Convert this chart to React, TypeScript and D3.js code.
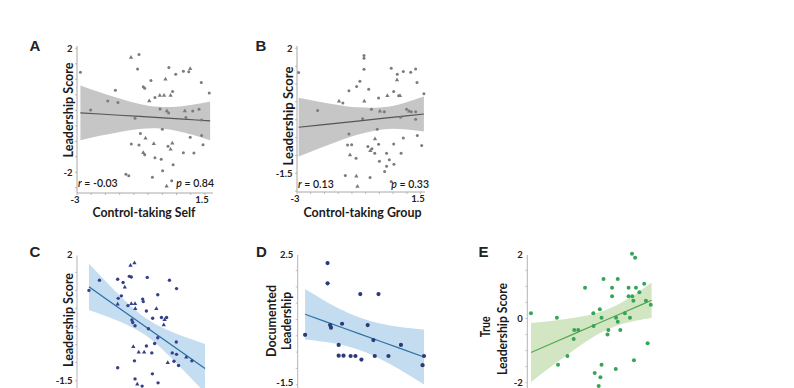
import * as d3 from "d3";

// ---- Panel A : Control-taking Self ----
const aX = [-2.88, -1.1, -0.82, -0.87, 0.23, 0.47, 0.74, 0.93, 0.98, -0.4, 0.11, 1.37, -0.67, -0.62, -1.65, 0.36, 1.65, -0.26, -0.09, 0.06, 0.29, -0.46, -1.92, -1.56, -2.52, -0.08, 0.16, 0.22, 0.79, 1.07, 1.29, 0.83, -0.96, 1.38, 0.0, -0.77, -0.59, 0.98, 1.38, -1.09, -0.82, -0.3, 0.2, 0.35, 0.29, 1.43, -0.67, -0.62, 0.74, 1.11, -0.26, -0.04, 0.38, 0.01, -1.28, -1.18, -0.35, 0.33, 0.15];
const aY = [1.23, 1.7, 1.8, 1.33, 1.38, 1.16, 1.26, 1.24, 1.34, 0.96, 1.0, 0.9, 0.76, 0.71, 0.65, 0.61, 0.56, 0.41, 0.48, 0.48, 0.48, 0.3, 0.3, 0.25, 0.01, 0.04, -0.02, -0.09, -0.02, -0.02, 0.03, -0.23, -0.26, -0.31, -0.61, -0.75, -0.9, -0.87, -0.81, -1.09, -1.12, -1.08, -1.16, -1.06, -1.26, -1.11, -1.37, -1.43, -1.37, -1.38, -1.53, -1.58, -1.76, -1.95, -2.06, -2.11, -2.16, -2.27, -2.45];
const aTri = [0, 1, 0, 0, 0, 0, 0, 0, 1, 0, 1, 0, 0, 0, 0, 0, 0, 0, 1, 1, 1, 1, 0, 0, 0, 0, 1, 0, 1, 0, 0, 0, 0, 0, 0, 0, 1, 0, 0, 0, 0, 1, 0, 1, 1, 0, 1, 0, 0, 0, 0, 0, 0, 0, 0, 0, 0, 0, 1];
const aBandX = [-2.88, -2.2, -1.5, -0.8, -0.1, 0.6, 1.2, 1.68];
const aBandLo = [-0.963, -0.824, -0.697, -0.604, -0.589, -0.684, -0.829, -0.966];
const aBandHi = [0.803, 0.586, 0.379, 0.206, 0.111, 0.126, 0.203, 0.286];
const aFit = [-0.08, -0.119, -0.159, -0.199, -0.239, -0.279, -0.313, -0.34];

// ---- Panel B : Control-taking Group ----
const bX = [-2.94, -0.56, -0.56, -0.56, -0.71, -1.11, -0.83, -0.39, -0.03, -0.55, -1.47, -1.33, -2.25, -0.29, 0.02, 0.18, 0.43, 0.65, 0.64, 0.87, 1.14, 1.32, 1.37, 1.62, 0.52, 0.29, 0.7, 0.75, 0.99, 1.08, 1.16, 1.32, 0.77, -0.61, 1.32, -0.08, -1.11, 1.38, 0.87, -0.16, -1.16, -1.01, -0.42, -0.27, -0.17, -0.03, 0.26, 0.52, 0.79, 1.54, -1.07, -0.85, -0.33, 0.0, 0.36, 0.26, 0.19, 0.53, -1.24, -0.84, -0.34, 0.43, -0.8];
const bY = [1.32, 1.8, 1.72, 1.41, 1.08, 0.81, 0.93, 0.85, 0.61, 0.52, 0.52, 0.47, 0.26, 0.29, 0.24, 0.22, 1.44, 1.27, 1.11, 1.35, 1.33, 1.42, 1.04, 0.73, 0.79, 0.67, 0.67, 0.67, 0.29, 0.24, 0.22, 0.22, 0.07, 0.03, 0.01, -0.27, -0.4, -0.44, -0.51, -0.54, -0.71, -0.7, -0.75, -0.81, -0.94, -0.69, -0.94, -0.68, -0.94, -0.72, -0.99, -1.08, -0.87, -1.16, -1.12, -1.3, -1.45, -1.25, -1.56, -1.58, -1.62, -1.73, -1.87];
const bTri = [0, 0, 0, 0, 0, 0, 0, 0, 0, 1, 1, 0, 0, 0, 1, 0, 0, 0, 1, 0, 0, 0, 0, 0, 0, 1, 0, 1, 0, 1, 0, 0, 0, 0, 0, 0, 0, 0, 0, 1, 0, 0, 0, 0, 0, 0, 0, 0, 0, 0, 1, 0, 1, 0, 0, 0, 0, 0, 0, 1, 0, 0, 1];
const bBandX = [-2.94, -2.2, -1.5, -0.8, 0.1, 0.9, 1.62];
const bBandLo = [-1.033, -0.805, -0.6, -0.42, -0.274, -0.268, -0.332];
const bBandHi = [0.613, 0.505, 0.414, 0.346, 0.346, 0.47, 0.652];
const bFit = [-0.21, -0.15, -0.093, -0.037, 0.036, 0.101, 0.16];

// ---- Panel C ----
const cX = [-2.58, -2.21, -1.57, -1.38, -1.32, -1.12, -0.98, -1.16, -1.09, -0.53, 0.25, 0.5, -1.55, -1.44, -1.57, -1.21, -1.09, -0.96, -0.95, -0.69, -0.67, -0.56, -0.16, -0.21, -0.34, -0.03, 0.08, 0.15, 0.05, -1.07, -1.04, -0.96, -0.49, -0.16, -0.27, 0.49, -1.02, -0.83, -0.64, -0.56, -0.37, -0.98, 0.19, 0.35, 0.5, 0.41, 0.57, 0.84, 1.04, -1.57, -0.35, -0.96, -0.88, -0.71, -0.15];
const cY = [1.0, 1.28, 1.31, 1.22, 1.09, 1.69, 1.76, 1.39, 1.37, 1.36, 1.28, 1.05, 0.78, 0.85, 0.62, 0.58, 0.63, 0.63, 0.49, 0.76, 0.69, 0.43, 0.88, 0.49, 0.23, 0.25, 0.19, 0.25, 0.04, 0.18, 0.11, 0.02, -0.06, -0.31, -0.47, -0.43, -0.56, -0.71, -0.71, -0.54, -0.73, -0.95, -1.0, -0.73, -0.77, -0.96, -1.08, -0.85, -0.95, -1.14, -1.31, -1.45, -1.6, -1.65, -1.56];
const cTri = [0, 0, 0, 0, 1, 1, 1, 0, 0, 0, 0, 0, 0, 0, 1, 0, 1, 1, 1, 0, 0, 0, 0, 1, 0, 0, 1, 0, 1, 0, 0, 0, 0, 0, 0, 0, 1, 1, 1, 0, 0, 0, 1, 0, 0, 0, 0, 1, 0, 0, 0, 0, 1, 0, 0];
const cBandX = [-2.58, -2.0, -1.3, -0.6, 0.1, 0.8, 1.5];
const cBandLo = [0.459, 0.295, 0.072, -0.237, -0.704, -1.257, -1.834];
const cBandHi = [1.741, 1.263, 0.71, 0.243, -0.066, -0.289, -0.486];
const cFit = [1.1, 0.779, 0.391, 0.003, -0.385, -0.773, -1.16];

// ---- Panel D : Documented Leadership ----
const dX = [-2.74, -1.95, -1.95, -1.86, -1.83, -1.44, -1.56, -1.56, -1.39, -1.14, -0.97, -0.76, -0.8, -0.16, -0.54, -0.34, -0.29, 0.19, 0.63, 1.44, 1.39];
const dY = [0.03, 2.23, 1.61, 0.33, 0.25, 0.37, -0.28, -0.61, -0.61, -0.62, -0.62, -0.73, 1.28, 1.28, 0.33, -0.13, -0.62, -0.62, -0.28, -0.62, -0.9];
const dBandX = [-2.74, -2.0, -1.4, -0.8, -0.1, 0.6, 1.44];
const dBandLo = [-0.112, -0.191, -0.291, -0.447, -0.709, -1.041, -1.494];
const dBandHi = [1.432, 1.047, 0.773, 0.553, 0.377, 0.271, 0.194];
const dFit = [0.66, 0.428, 0.241, 0.053, -0.166, -0.385, -0.65];

// ---- Panel E : True Leadership Score ----
const eX = [-2.87, -1.96, -1.92, -1.59, -1.37, -1.35, -1.21, -0.97, -0.68, -0.67, -0.45, -0.39, -0.39, -0.63, -0.43, -0.49, -0.32, -0.02, -0.02, 0.18, -0.15, -0.18, 0.12, 0.18, 0.27, 0.11, 0.43, 0.61, 0.56, 0.56, 0.69, 0.82, 0.94, 0.73, 0.68, 0.79, 1.11, 1.17, 1.34, 1.23, 0.75];
const eY = [0.16, 0.02, -1.44, -1.17, -0.64, -0.36, -0.36, 0.96, 0.16, -0.23, 0.29, 0.02, -1.44, -1.7, -1.83, -2.1, 1.23, 0.96, 0.69, 1.23, -0.36, -0.5, 0.02, -0.1, -0.36, -1.57, 0.16, 0.02, 0.96, 0.69, 0.69, 0.96, 0.82, 0.55, 2.02, 1.89, 1.08, 0.55, 0.43, -0.77, -1.3];
const eBandX = [-2.87, -2.1, -1.3, -0.5, 0.3, 1.0, 1.37];
const eBandLo = [-1.977, -1.46, -0.942, -0.484, -0.177, -0.036, 0.017];
const eBandHi = [-0.143, -0.068, 0.028, 0.184, 0.491, 0.888, 1.123];
const eFit = [-1.06, -0.764, -0.457, -0.15, 0.157, 0.426, 0.57];

const FONT = "Lato, 'Open Sans', sans-serif";
const LETTER_FONT = "'Liberation Sans Narrow', 'Liberation Sans', Arial, sans-serif";

type Label = { text: string; x: number; y: number; len?: number };

type PanelProps = {
  letter: string;
  letterPos: [number, number];
  xs: number[];
  ys: number[];
  tri?: number[];
  bandX: number[];
  lo: number[];
  hi: number[];
  fit: number[];
  xRange: [number, number];
  yDomain: [number, number];
  yRange: [number, number];
  axisTop: number;
  axisBottom: number;
  xAxisEnd?: number;
  yTicks: number[];
  yTickLabels: string[];
  yLabelShift?: number[];
  xTickLabels?: { text: string; x: number }[];
  yTitle: Label[];
  xTitle?: Label;
  stats?: { r: string; p: string; rx: number; px: number; y: number };
  pointColor: string;
  pointR: number;
  bandColor: string;
  lineColor: string;
  axisColor: string;
};

function Panel(p: PanelProps) {
  const x = d3.scaleLinear().domain([-3, 1.5]).range(p.xRange);
  const y = d3.scaleLinear().domain(p.yDomain).range(p.yRange);
  const idx = d3.range(p.bandX.length);
  const area = d3
    .area<number>()
    .x((i) => x(p.bandX[i]))
    .y0((i) => y(p.lo[i]))
    .y1((i) => y(p.hi[i]))
    .curve(d3.curveNatural);
  const line = d3
    .line<number>()
    .x((i) => x(p.bandX[i]))
    .y((i) => y(p.fit[i]));
  const tri = d3.symbol(d3.symbolTriangle, 8)();
  const x0 = x(-3);
  const xTicks = d3.range(-3, 1.51, 0.5);
  const yMinor = d3.range(-3, 3.01, 0.5).filter((v) => y(v) >= p.axisTop && y(v) <= p.axisBottom);

  return (
    <g>
      <text x={p.letterPos[0]} y={p.letterPos[1]} fontFamily={LETTER_FONT} fontWeight="bold" fontSize={15} fill="#222" textAnchor="middle" dominantBaseline="central">
        {p.letter}
      </text>
      <path d={area(idx) || ""} fill={p.bandColor} stroke="none" />
      <path d={line(idx) || ""} fill="none" stroke={p.lineColor} strokeWidth={1.2} />
      {/* axes */}
      <line x1={x0} x2={x0} y1={p.axisTop} y2={p.axisBottom} stroke={p.axisColor} strokeWidth={1} />
      {yMinor.map((v, i) => (
        <line key={"ym" + i} x1={x0 - 2} x2={x0} y1={y(v)} y2={y(v)} stroke={p.axisColor} strokeWidth={0.8} />
      ))}
      {p.xAxisEnd !== undefined && (
        <g>
          <line x1={x0} x2={p.xAxisEnd} y1={p.axisBottom} y2={p.axisBottom} stroke={p.axisColor} strokeWidth={1} />
          {xTicks.map((v, i) => (
            <line key={"xt" + i} x1={x(v)} x2={x(v)} y1={p.axisBottom} y2={p.axisBottom + 2} stroke={p.axisColor} strokeWidth={0.8} />
          ))}
        </g>
      )}
      {p.yTicks.map((v, i) => (
        <text key={"yl" + i} x={x0 - 4.5} y={y(v) + (p.yLabelShift ? p.yLabelShift[i] : 0)} fontFamily={FONT} fontWeight="bold" fontSize={9.5} fill="#222" textAnchor="end" dominantBaseline="central">
          {p.yTickLabels[i]}
        </text>
      ))}
      {p.xTickLabels &&
        p.xTickLabels.map((t, i) => (
          <text key={"xl" + i} x={t.x} y={p.axisBottom + 6} fontFamily={FONT} fontWeight="bold" fontSize={9.5} fill="#222" textAnchor="middle" dominantBaseline="central">
            {t.text}
          </text>
        ))}
      {/* points */}
      {p.xs.map((v, i) =>
        p.tri && p.tri[i] ? (
          <path key={"pt" + i} d={tri || ""} transform={`translate(${x(v)},${y(p.ys[i])})`} fill={p.pointColor} />
        ) : (
          <circle key={"pt" + i} cx={x(v)} cy={y(p.ys[i])} r={p.pointR} fill={p.pointColor} />
        )
      )}
      {p.yTitle.map((t, i) => (
        <text
          key={"yt" + i}
          transform={`translate(${t.x},${t.y}) rotate(-90)`}
          fontFamily={FONT}
          fontWeight="bold"
          fontSize={13.5}
          fill="#1a1a1a"
          textAnchor="middle"
          dominantBaseline="central"
          textLength={t.len}
          lengthAdjust="spacingAndGlyphs"
        >
          {t.text}
        </text>
      ))}
      {p.xTitle && (
        <text x={p.xTitle.x} y={p.xTitle.y} fontFamily={FONT} fontWeight="bold" fontSize={13} fill="#1a1a1a" textAnchor="middle" textLength={p.xTitle.len} lengthAdjust="spacingAndGlyphs">
          {p.xTitle.text}
        </text>
      )}
      {p.stats && (
        <g fontFamily={FONT} fontSize={10.5} fontWeight={600} fill="#1a1a1a">
          <text x={p.stats.rx} y={p.stats.y}>
            <tspan fontStyle="italic">r</tspan>
            {" = " + p.stats.r}
          </text>
          <text x={p.stats.px} y={p.stats.y} textAnchor="end">
            <tspan fontStyle="italic">p</tspan>
            {" = " + p.stats.p}
          </text>
        </g>
      )}
    </g>
  );
}

export default function App() {
  const grey = { pointColor: "#7b7b7b", pointR: 1.5, bandColor: "#c6c6c6", lineColor: "#555555", axisColor: "#a8a8a8" };
  return (
    <svg width={794} height={388} style={{ position: "absolute", left: 0, top: 0, background: "#fff" }}>
      <Panel
        letter="A"
        letterPos={[35, 45]}
        xs={aX}
        ys={aY}
        tri={aTri}
        bandX={aBandX}
        lo={aBandLo}
        hi={aBandHi}
        fit={aFit}
        xRange={[77, 205]}
        yDomain={[2, -2]}
        yRange={[48.3, 172.3]}
        axisTop={46}
        axisBottom={193}
        xAxisEnd={213}
        yTicks={[2, -2]}
        yTickLabels={["2", "-2"]}
        xTickLabels={[
          { text: "-3", x: 75 },
          { text: "1.5", x: 202 },
        ]}
        yTitle={[{ text: "Leadership Score", x: 68, y: 110, len: 95 }]}
        xTitle={{ text: "Control-taking Self", x: 144, y: 217, len: 103 }}
        stats={{ r: "-0.03", p: "0.84", rx: 78, px: 214, y: 187 }}
        {...grey}
      />
      <Panel
        letter="B"
        letterPos={[261, 45]}
        xs={bX}
        ys={bY}
        tri={bTri}
        bandX={bBandX}
        lo={bBandLo}
        hi={bBandHi}
        fit={bFit}
        xRange={[297, 420.6]}
        yDomain={[2, -1.5]}
        yRange={[48.3, 173.3]}
        axisTop={46}
        axisBottom={192}
        xAxisEnd={425}
        yTicks={[2, -1.5]}
        yTickLabels={["2", "-1.5"]}
        xTickLabels={[
          { text: "-3", x: 295 },
          { text: "1.5", x: 418 },
        ]}
        yTitle={[{ text: "Leadership Score", x: 288, y: 116, len: 99 }]}
        xTitle={{ text: "Control-taking Group", x: 362.5, y: 216.5, len: 118 }}
        stats={{ r: "0.13", p: "0.33", rx: 298, px: 429, y: 187.5 }}
        {...grey}
      />
      <Panel
        letter="C"
        letterPos={[35, 251.5]}
        xs={cX}
        ys={cY}
        tri={cTri}
        bandX={cBandX}
        lo={cBandLo}
        hi={cBandHi}
        fit={cFit}
        xRange={[77, 205]}
        yDomain={[2, -1.5]}
        yRange={[254.3, 380.7]}
        axisTop={255.5}
        axisBottom={400}
        yTicks={[2, -1.5]}
        yTickLabels={["2", "-1.5"]}
        yTitle={[{ text: "Leadership Score", x: 68.3, y: 320, len: 94 }]}
        pointColor="#34418a"
        pointR={1.7}
        bandColor="#c4ddf1"
        lineColor="#2b6ea6"
        axisColor="#b5b5b5"
      />
      <Panel
        letter="D"
        letterPos={[261.5, 251.5]}
        xs={dX}
        ys={dY}
        bandX={dBandX}
        lo={dBandLo}
        hi={dBandHi}
        fit={dFit}
        xRange={[297.7, 425.7]}
        yDomain={[2.5, -1.5]}
        yRange={[254.3, 384.7]}
        axisTop={255}
        axisBottom={400}
        yTicks={[2.5, -1.5]}
        yTickLabels={["2.5", "-1.5"]}
        yLabelShift={[0, -2]}
        yTitle={[
          { text: "Documented", x: 271, y: 321, len: 72 },
          { text: "Leadership", x: 286, y: 321, len: 58 },
        ]}
        pointColor="#2d3a78"
        pointR={2.1}
        bandColor="#c3dcf0"
        lineColor="#2e72a2"
        axisColor="#b5b5b5"
      />
      <Panel
        letter="E"
        letterPos={[483.5, 251]}
        xs={eX}
        ys={eY}
        bandX={eBandX}
        lo={eBandLo}
        hi={eBandHi}
        fit={eFit}
        xRange={[527.3, 655.3]}
        yDomain={[2, -2]}
        yRange={[254.3, 382.7]}
        axisTop={255}
        axisBottom={400}
        yTicks={[2, 0, -2]}
        yTickLabels={["2", "0", "-2"]}
        yTitle={[
          { text: "True", x: 485, y: 326.7, len: 21 },
          { text: "Leadership Score", x: 501.7, y: 329, len: 92 },
        ]}
        pointColor="#35a556"
        pointR={2}
        bandColor="#d2e6c4"
        lineColor="#55a64c"
        axisColor="#b5b5b5"
      />
    </svg>
  );
}
